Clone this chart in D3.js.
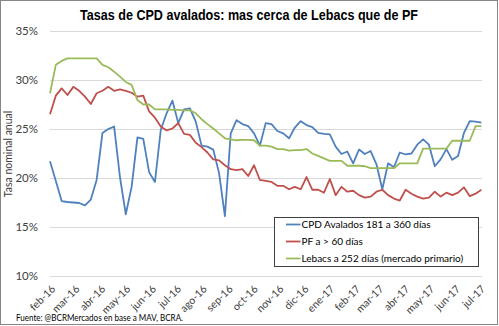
<!DOCTYPE html>
<html>
<head>
<meta charset="utf-8">
<script src="https://cdn.jsdelivr.net/npm/d3@7"></script>
<style>
  body { margin: 0; background: #fff; }
  text { font-family: Lato, "Liberation Sans", sans-serif; }
</style>
</head>
<body>
<div id="chart"></div>
<script>
const CANVAS_WIDTH = 499;
const CANVAS_HEIGHT = 326;
const MARGIN = { top: 31, right: 17, bottom: 50, left: 50 };

const TITLE = 'Tasas de CPD avalados: mas cerca de Lebacs que de PF';
const Y_TITLE = 'Tasa nominal anual';
const SOURCE = 'Fuente: @BCRMercados en base a MAV, BCRA.';

// weekly observations, first and last week
const FIRST_WEEK = '2016-02-01';
const LAST_WEEK = '2017-07-03';

const SERIES_NAMES = [
  'CPD Avalados 181 a 360 días',
  'PF a > 60 días',
  'Lebacs a 252 días (mercado primario)'
];
const SERIES_COLORS = ['#4f81bd', '#c0504d', '#9bbb59'];

const cpdValues = [
  21.7, 19.7, 17.65, 17.55, 17.5, 17.45, 17.2, 17.8, 19.8, 24.6,
  25.0, 25.25, 20.1, 16.3, 19.1, 24.15, 24.0, 20.6, 19.6, 24.9,
  26.6, 27.9, 25.6, 27.0, 27.1, 25.75, 23.3, 23.2, 22.9, 20.5,
  16.1, 24.55, 25.9, 25.5, 25.3, 24.55, 23.3, 25.6, 25.5, 24.8,
  24.55, 24.05, 25.15, 25.8, 25.4, 25.2, 24.6, 24.5, 24.45, 23.2,
  22.45, 22.7, 21.5, 22.9, 22.45, 22.75, 21.4, 18.85, 21.5, 21.1,
  22.6, 22.4, 22.5, 23.4, 23.95, 23.4, 21.2, 21.9, 22.95, 21.85,
  22.25, 24.6, 25.8, 25.75, 25.65
];
const pfValues = [
  26.5, 28.4, 29.15, 28.47, 29.3, 28.9, 28.3, 27.55, 28.65, 28.9,
  29.3, 28.9, 29.05, 28.9, 28.7, 28.3, 28.4, 26.8, 26.15, 25.25,
  24.85, 25.05, 25.6, 24.5, 24.4, 23.6, 23.15, 22.6, 21.9, 21.8,
  21.3, 20.9, 20.8, 20.9, 20.2, 21.3, 19.8, 19.7, 19.6, 19.2,
  19.2, 18.85, 19.1, 18.85, 20.1, 18.8, 18.8, 18.5, 19.9, 18.25,
  19.1, 18.6, 18.7, 18.25, 18.0, 18.1, 18.6, 18.8, 18.25, 17.9,
  17.7, 18.8, 18.4, 18.1, 17.9, 18.0, 18.6, 18.1, 18.5, 18.25,
  18.5, 19.05, 18.15, 18.4, 18.8
];
const lebacValues = [
  28.65, 31.55, 31.95, 32.2, 32.2, 32.2, 32.2, 32.2, 32.2, 31.55,
  31.3, 30.85, 30.35, 29.8, 29.5, 27.95, 27.5, 27.5, 27.0, 27.0,
  27.0, 26.95, 26.95, 26.9, 26.9, 26.6, 26.0, 25.5, 25.05, 24.55,
  24.05, 23.95, 23.85, 23.9, 23.9, 23.85, 23.3, 23.3, 23.2, 22.95,
  22.95, 22.8, 22.85, 22.85, 22.95, 22.5, 22.25, 22.0, 21.75, 21.75,
  21.75, 21.25, 21.25, 21.25, 21.2, 21.0, 21.0, 21.0, 21.0, 21.0,
  21.5, 21.5, 21.5, 21.5, 23.0, 23.0, 23.0, 23.0, 23.0, 23.8,
  23.8, 23.8, 23.8, 25.3, 25.3
];

const Y_TICKS = [10, 15, 20, 25, 30, 35];
const MONTH_LABELS = [
  'feb-16', 'mar-16', 'abr-16', 'may-16', 'jun-16', 'jul-16', 'ago-16', 'sep-16', 'oct-16',
  'nov-16', 'dic-16', 'ene-17', 'feb-17', 'mar-17', 'abr-17', 'may-17', 'jun-17', 'jul-17'
];

const parseDate = d3.utcParse('%Y-%m-%d');
// one date per observation (mondays)
const weeks = d3.utcMonday.range(parseDate(FIRST_WEEK), d3.utcDay.offset(parseDate(LAST_WEEK), 1));
const seriesValues = [cpdValues, pfValues, lebacValues];

const svg = d3.select('#chart')
  .append('svg')
    .attr('width', CANVAS_WIDTH)
    .attr('height', CANVAS_HEIGHT);

// outer chart border
svg.append('rect')
  .attr('x', 0.5).attr('y', 0.5)
  .attr('width', 497).attr('height', 324)
  .attr('fill', '#fff')
  .attr('stroke', '#868686');

const xScale = d3.scaleUtc()
  .domain([parseDate(FIRST_WEEK), parseDate(LAST_WEEK)])
  .range([MARGIN.left, CANVAS_WIDTH - MARGIN.right - 0.6]);

const yScale = d3.scaleLinear()
  .domain([10, 35])
  .range([CANVAS_HEIGHT - MARGIN.bottom, MARGIN.top]);

// gridlines + y labels
const yAxis = d3.axisLeft(yScale)
  .tickValues(Y_TICKS)
  .tickSize(-(CANVAS_WIDTH - MARGIN.right - MARGIN.left))
  .tickPadding(12)
  .tickFormat(d => d + '%');

const yGuide = svg.append('g')
  .attr('transform', `translate(${MARGIN.left}, 0)`)
  .call(yAxis);
yGuide.select('.domain').remove();
yGuide.selectAll('line').attr('stroke', '#d9d9d9');
yGuide.selectAll('text')
  .attr('fill', '#404040')
  .style('font-size', '11.5px')
  .style('font-family', 'Lato, sans-serif');

// month labels, rotated
const monthTicks = d3.utcMonth.range(parseDate('2016-02-01'), parseDate('2017-07-02'));
const xAxis = d3.axisBottom(xScale)
  .tickValues(monthTicks)
  .tickSize(0)
  .tickFormat((d, i) => MONTH_LABELS[i]);

const xGuide = svg.append('g')
  .attr('transform', `translate(0, ${CANVAS_HEIGHT - MARGIN.bottom})`)
  .call(xAxis);
xGuide.select('.domain').remove();
xGuide.selectAll('text')
  .attr('fill', '#404040')
  .style('font-size', '10.5px')
  .style('font-family', 'Lato, sans-serif')
  .attr('text-anchor', 'end')
  .attr('y', 0)
  .attr('dy', '0.75em')
  .attr('transform', 'translate(0, 8) rotate(-45)');

// the three series
const line = d3.line()
  .x((d, i) => xScale(weeks[i]))
  .y(d => yScale(d));

svg.append('g')
  .selectAll('path')
  .data(seriesValues)
  .enter()
  .append('path')
    .attr('d', d => line(d))
    .attr('fill', 'none')
    .attr('stroke', (d, i) => SERIES_COLORS[i])
    .attr('stroke-width', 1.8)
    .attr('stroke-linejoin', 'round');

// title
svg.append('text')
  .attr('x', 249)
  .attr('y', 20)
  .attr('text-anchor', 'middle')
  .attr('textLength', 338)
  .attr('lengthAdjust', 'spacingAndGlyphs')
  .style('font-family', '"Liberation Sans Narrow", "Liberation Sans", sans-serif')
  .style('font-weight', 'bold')
  .style('font-size', '15px')
  .text(TITLE);

// y axis title
svg.append('text')
  .attr('transform', 'translate(12, 154) rotate(-90)')
  .attr('text-anchor', 'middle')
  .attr('fill', '#404040')
  .style('font-size', '10.5px')
  .text(Y_TITLE);

// legend
const legend = svg.append('g')
  .attr('transform', 'translate(274.5, 217.5)');
legend.append('rect')
  .attr('width', 204)
  .attr('height', 49)
  .attr('fill', '#fff')
  .attr('stroke', '#404040');
const legendItems = legend.selectAll('g.item')
  .data(SERIES_NAMES)
  .enter()
  .append('g')
    .attr('class', 'item')
    .attr('transform', (d, i) => `translate(0, ${7 + i * 17})`);
legendItems.append('line')
  .attr('x1', 11.5).attr('x2', 26)
  .attr('stroke', (d, i) => SERIES_COLORS[i])
  .attr('stroke-width', 1.8);
legendItems.append('text')
  .attr('x', 27)
  .attr('dy', '0.35em')
  .attr('fill', '#000')
  .style('font-size', '10px')
  .text(d => d);

// source
svg.append('text')
  .attr('x', 16)
  .attr('y', 321)
  .attr('fill', '#000')
  .attr('textLength', 167)
  .attr('lengthAdjust', 'spacingAndGlyphs')
  .style('font-size', '9.5px')
  .text(SOURCE);
</script>
</body>
</html>
